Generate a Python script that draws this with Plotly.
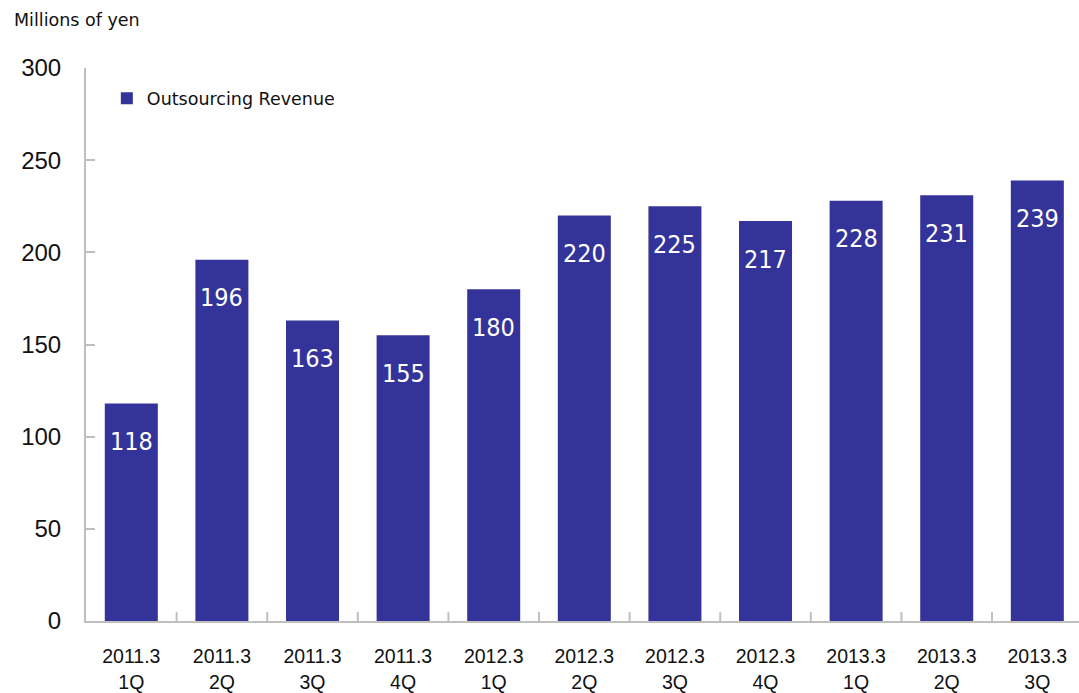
import plotly.graph_objects as go

# Quarterly outsourcing revenue (millions of yen)
fiscal_years = ["2011.3", "2011.3", "2011.3", "2011.3", "2012.3", "2012.3",
                "2012.3", "2012.3", "2013.3", "2013.3", "2013.3"]
quarters = ["1Q", "2Q", "3Q", "4Q", "1Q", "2Q", "3Q", "4Q", "1Q", "2Q", "3Q"]
revenue = [118, 196, 163, 155, 180, 220, 225, 217, 228, 231, 239]
y_ticks = [0, 50, 100, 150, 200, 250, 300]

categories = [f"{fy}<br>{q}" for fy, q in zip(fiscal_years, quarters)]
x_idx = list(range(len(categories)))

bar_color = "#333399"
axis_color = "#BFBFBF"
text_color = "#111111"
label_font = "DejaVu Sans Condensed, DejaVu Sans, sans-serif"
tick_font = "Liberation Sans, Arial, sans-serif"
caption_font = "DejaVu Sans, sans-serif"

fig = go.Figure()
fig.add_trace(go.Bar(
    x=x_idx,
    y=revenue,
    name="Outsourcing Revenue",
    marker=dict(color=bar_color, line=dict(width=0)),
    width=0.585,
    showlegend=True,
))

# Value labels inside each bar, just below its top
for xi, v in zip(x_idx, revenue):
    fig.add_annotation(
        x=xi, y=v, text=str(v), showarrow=False,
        xanchor="center", yanchor="middle", yshift=-38,
        font=dict(family=label_font, size=25, color="white"),
    )

fig.add_annotation(
    xref="paper", yref="paper", x=-0.075, y=1.0, yshift=48,
    text="Millions of yen", showarrow=False, xanchor="left", yanchor="middle",
    font=dict(family=caption_font, size=17.5, color=text_color),
)

fig.update_layout(
    width=1079, height=693,
    margin=dict(l=86, r=0, t=68, b=72),
    paper_bgcolor="white", plot_bgcolor="white",
    bargap=0.415,
    legend=dict(
        x=0.021, y=0.945, xanchor="left", yanchor="middle",
        bgcolor="rgba(0,0,0,0)",
        font=dict(family=caption_font, size=17.5, color=text_color),
        itemwidth=30,
    ),
    xaxis=dict(
        tickmode="array", tickvals=x_idx, ticktext=categories,
        range=[-0.5, 10.46],
        showline=True, linecolor=axis_color, linewidth=2,
        ticks="", showgrid=False, zeroline=False,
        tickfont=dict(family=tick_font, size=19.5, color=text_color),
        ticklabelstandoff=17,
    ),
    yaxis=dict(
        range=[0, 300], tickvals=y_ticks,
        showline=True, linecolor=axis_color, linewidth=2,
        ticks="inside", ticklen=9, tickcolor=axis_color, tickwidth=2,
        showgrid=False, zeroline=False,
        tickfont=dict(family=tick_font, size=24, color=text_color),
        ticklabelstandoff=18,
    ),
)

# Category boundary ticks on the x axis (pointing up into the plot)
for b in range(len(categories)):
    fig.add_shape(
        type="line", xref="x", yref="paper",
        x0=b + 0.5, x1=b + 0.5, y0=0, y1=0.016,
        line=dict(color=axis_color, width=2),
    )

fig.write_html("out.html")
